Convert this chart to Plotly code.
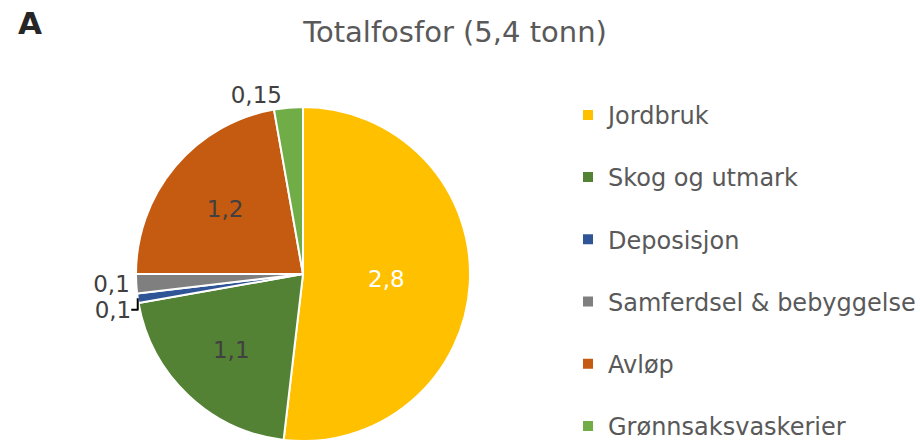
import plotly.graph_objects as go

# Fosfor sources (tonn), slices drawn clockwise from the top
sources = ["Jordbruk", "Skog og utmark", "Deposisjon",
           "Samferdsel & bebyggelse", "Avløp", "Grønnsaksvaskerier"]
tonn = [2.8, 1.1, 0.05, 0.1, 1.2, 0.15]
label_text = ["2,8", "1,1", "0,1", "0,1", "1,2", "0,15"]
colors = ["#FFC000", "#548235", "#2F5597", "#7F7F7F", "#C55A11", "#70AD47"]
text_colors = ["white", "#404040", "#404040", "#404040", "#404040", "#404040"]
text_pos = ["inside", "inside", "outside", "outside", "inside", "outside"]

FONT = "DejaVu Sans"

fig = go.Figure()
fig.add_trace(
    go.Pie(
        labels=sources,
        values=tonn,
        text=label_text,
        textinfo="text",
        textposition=text_pos,
        textfont=dict(family=FONT, size=23, color=text_colors),
        insidetextorientation="horizontal",
        sort=False,
        direction="clockwise",
        rotation=0,
        marker=dict(colors=colors, line=dict(color="white", width=2)),
        domain=dict(x=[0.1478, 0.5109], y=[0.002, 0.758]),
        showlegend=False,
        hoverinfo="label+value",
    )
)

# legend entries as empty square-marker traces so the item spacing can be set
for name, col in zip(sources, colors):
    fig.add_trace(
        go.Scatter(
            x=[None], y=[None],
            mode="markers",
            name=name,
            legendgroup=name,
            marker=dict(symbol="square", size=10, color=col),
        )
    )

fig.update_xaxes(visible=False)
fig.update_yaxes(visible=False)

fig.update_layout(
    width=920,
    height=442,
    margin=dict(l=0, r=0, t=0, b=0, autoexpand=False),
    paper_bgcolor="white",
    plot_bgcolor="white",
    font=dict(family=FONT, color="#595959"),
    title=dict(
        text="Totalfosfor (5,4 tonn)",
        x=0.4946,
        xanchor="center",
        y=0.928,
        yanchor="middle",
        font=dict(family=FONT, size=29, color="#595959"),
    ),
    legend=dict(
        x=0.6174,
        xanchor="left",
        y=0.79,
        yanchor="top",
        traceorder="grouped",
        tracegroupgap=28,
        font=dict(family=FONT, size=24, color="#595959"),
    ),
    annotations=[
        dict(
            text="<b>A</b>",
            x=0.017,
            y=0.949,
            xref="paper",
            yref="paper",
            xanchor="left",
            yanchor="middle",
            showarrow=False,
            font=dict(family=FONT, size=31, color="#262626"),
        )
    ],
)

fig.write_html(
    "out.html",
    config={"displayModeBar": False},
    post_script="document.body.style.margin='0px';",
)
